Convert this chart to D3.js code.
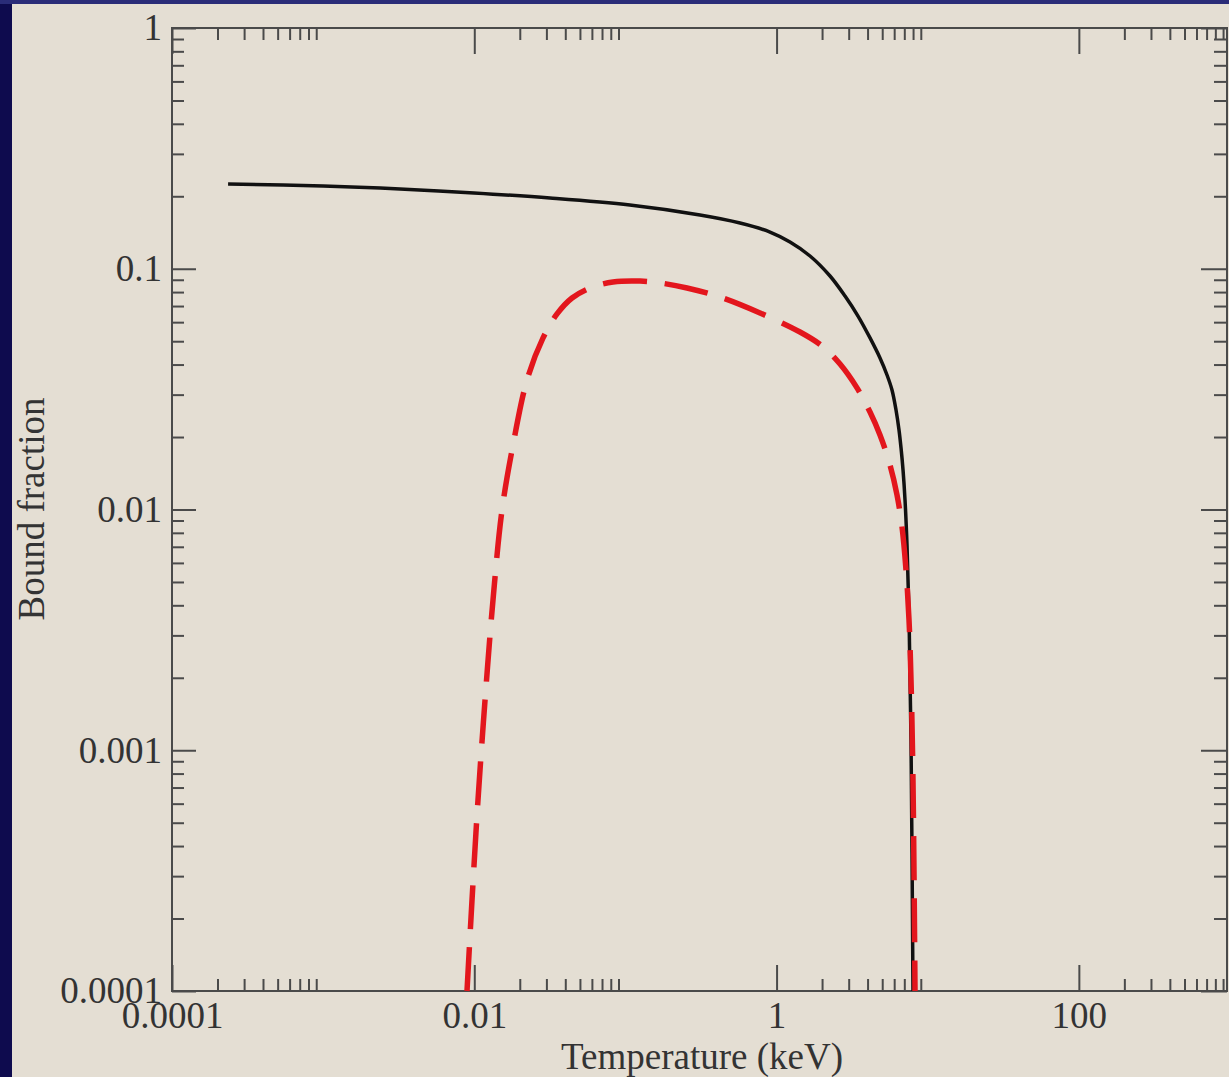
<!DOCTYPE html>
<html><head><meta charset="utf-8">
<script src="https://cdn.jsdelivr.net/npm/d3@7"></script>
<style>body{margin:0;background:#e4ded3;overflow:hidden}</style>
</head><body><svg id="c" width="1229" height="1077"></svg>
<script>
// ---- data ----
const xMajorTicks = [1e-4, 1e-2, 1, 100];
const xTickLabels = ["0.0001", "0.01", "1", "100"];
const yMajorTicks = [1, 0.1, 0.01, 0.001, 0.0001];
const yTickLabels = ["1", "0.1", "0.01", "0.001", "0.0001"];

// solid black curve
const boundX = [2.35e-4, 1e-3, 3.225e-3, 0.00995, 0.0317, 0.107, 0.3114, 0.573, 0.905, 1.227, 1.665, 2.258, 2.837, 3.458, 4.152, 4.834, 5.38, 5.804, 6.170, 6.458, 6.66, 6.866, 7.077, 7.295, 7.521, 7.753, 7.99];
const boundY = [0.225, 0.2207, 0.2145, 0.2064, 0.1967, 0.1839, 0.1672, 0.1549, 0.1421, 0.1292, 0.113, 0.0933, 0.0770, 0.0636, 0.0516, 0.0426, 0.0362, 0.03136, 0.0259, 0.0214, 0.0180, 0.01459, 0.01095, 0.00712, 0.00365, 0.001103, 1e-4];

// dashed red curve
const dashX = [0.00895, 0.00966, 0.01058, 0.01178, 0.0133, 0.01526, 0.01804, 0.02233, 0.0285, 0.03526, 0.04432, 0.0583, 0.0828, 0.1249, 0.1694, 0.2555, 0.4224, 0.777, 1.429, 1.998, 2.63, 3.405, 4.152, 4.834, 5.631, 6.265, 6.761, 7.184, 7.521, 7.753, 7.99, 8.241];
const dashY = [1e-4, 2.388e-4, 6.21e-4, 0.001617, 0.00421, 0.00995, 0.01853, 0.0345, 0.0516, 0.0649, 0.0756, 0.0832, 0.0881, 0.0889, 0.0873, 0.0832, 0.0763, 0.0655, 0.0546, 0.0478, 0.0402, 0.032, 0.0254, 0.0204, 0.0153, 0.01149, 0.00846, 0.00561, 0.003475, 0.001958, 0.000752, 1e-4];

const xTitle = "Temperature (keV)";
const yTitle = "Bound fraction";

// ---- layout ----
const W = 1229, H = 1077;
const L = 172, R = 1230, T = 28, B = 991;
const frameR = 1227;
const svg = d3.select("#c");

svg.append("rect").attr("width", W).attr("height", H).attr("fill", "#e4ded3");
svg.append("rect").attr("x", 0).attr("y", 0).attr("width", 12).attr("height", H).attr("fill", "#0e0b4e");
svg.append("rect").attr("x", 0).attr("y", 0).attr("width", W).attr("height", 4).attr("fill", "#2a2c78");

const x = d3.scaleLog().domain([1e-4, 1e3]).range([L, R]);
const y = d3.scaleLog().domain([1e-4, 1]).range([B, T]);

const xMinor = xMajorTicks.flatMap(m => d3.range(2, 10).map(k => k * m)).filter(v => v < 1e3);
const yMinor = [1e-4, 1e-3, 1e-2, 1e-1].flatMap(m => d3.range(2, 10).map(k => k * m));

const axisColor = "#4a4a4a";
const font = "'Liberation Serif', 'Times New Roman', serif";

function style(g, labels) {
  g.select(".domain").remove();
  g.selectAll(".tick line").attr("stroke", axisColor).attr("stroke-width", 2);
  g.selectAll(".tick text").attr("fill", "#333").style("font-family", font).style("font-size", "37px");
  if (!labels) g.selectAll(".tick text").remove();
}

// bottom
svg.append("g").attr("transform", `translate(0,${B})`)
  .call(d3.axisBottom(x).tickValues(xMajorTicks).tickSizeInner(-26).tickSizeOuter(0).tickPadding(11)
    .tickFormat((d, i) => xTickLabels[i]))
  .call(g => style(g, true));
svg.append("g").attr("transform", `translate(0,${B})`)
  .call(d3.axisBottom(x).tickValues(xMinor).tickSizeInner(-12).tickSizeOuter(0).tickFormat(""))
  .call(g => style(g, false));
// top
svg.append("g").attr("transform", `translate(0,${T})`)
  .call(d3.axisTop(x).tickValues(xMajorTicks).tickSizeInner(-26).tickSizeOuter(0).tickFormat(""))
  .call(g => style(g, false));
svg.append("g").attr("transform", `translate(0,${T})`)
  .call(d3.axisTop(x).tickValues(xMinor).tickSizeInner(-12).tickSizeOuter(0).tickFormat(""))
  .call(g => style(g, false));
// left
svg.append("g").attr("transform", `translate(${L},0)`)
  .call(d3.axisLeft(y).tickValues(yMajorTicks).tickSizeInner(-24).tickSizeOuter(0).tickPadding(10)
    .tickFormat((d, i) => yTickLabels[i]))
  .call(g => style(g, true));
svg.append("g").attr("transform", `translate(${L},0)`)
  .call(d3.axisLeft(y).tickValues(yMinor).tickSizeInner(-12).tickSizeOuter(0).tickFormat(""))
  .call(g => style(g, false));
// right
svg.append("g").attr("transform", `translate(${frameR},0)`)
  .call(d3.axisRight(y).tickValues(yMajorTicks).tickSizeInner(-26).tickSizeOuter(0).tickFormat(""))
  .call(g => style(g, false));
svg.append("g").attr("transform", `translate(${frameR},0)`)
  .call(d3.axisRight(y).tickValues(yMinor).tickSizeInner(-13).tickSizeOuter(0).tickFormat(""))
  .call(g => style(g, false));

// frame
svg.append("rect").attr("x", L).attr("y", T).attr("width", frameR - L).attr("height", B - T)
  .attr("fill", "none").attr("stroke", axisColor).attr("stroke-width", 2);

// curves
const line = d3.line().x(d => x(d[0])).y(d => y(d[1])).curve(d3.curveCatmullRom.alpha(0.5));
svg.append("path").datum(boundX.map((v, i) => [v, boundY[i]]))
  .attr("d", line).attr("fill", "none").attr("stroke", "#111").attr("stroke-width", 3.5);
svg.append("path").datum(dashX.map((v, i) => [v, dashY[i]]))
  .attr("d", line).attr("fill", "none").attr("stroke", "#e3161d").attr("stroke-width", 5.5)
  .attr("stroke-dasharray", "44,18");

// titles
svg.append("text").attr("x", 702).attr("y", 1069).attr("text-anchor", "middle")
  .style("font-family", font).style("font-size", "37px").attr("fill", "#333").text(xTitle);
svg.append("text").attr("transform", "translate(44,509) rotate(-90)").attr("text-anchor", "middle")
  .style("font-family", font).style("font-size", "37px").attr("fill", "#333").text(yTitle);
</script></body></html>
